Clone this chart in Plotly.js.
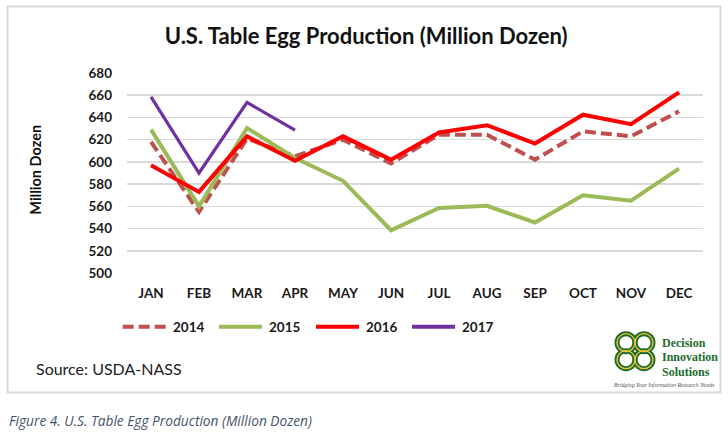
<!DOCTYPE html>
<html>
<head>
<meta charset="utf-8">
<script src="https://cdn.plot.ly/plotly-3.0.1.min.js"></script>
<style>
html,body{margin:0;padding:0;background:#fff;}
#chart{width:728px;height:433px;}
</style>
</head>
<body>
<div id="chart"></div>
<script>
const months = ["JAN","FEB","MAR","APR","MAY","JUN","JUL","AUG","SEP","OCT","NOV","DEC"];
const seriesNames = ["2014","2015","2016","2017"];
const y2014 = [618, 555, 621, 605, 620, 598.5, 624.5, 624.5, 602, 627.5, 623, 645.5];
const y2015 = [629, 560, 630.5, 603.5, 583, 538.5, 558.5, 560.5, 545.5, 570, 565, 594];
const y2016 = [597, 573, 623, 601, 623, 602, 626.5, 633, 616.5, 642.5, 634, 662.5];
const y2017 = [658.5, 590, 653.5, 628.5];
const yTicks = [500, 520, 540, 560, 580, 600, 620, 640, 660, 680];

const colors = ["#C0504D", "#9BBB59", "#FF0000", "#7030A0"];
const widths = [4, 4, 4, 3.2];
const dashes = ["11px,5px", "solid", "solid", "solid"];
const ys = [y2014, y2015, y2016, y2017];

const FONT = "Lato, 'Liberation Sans', sans-serif";

// pixel -> paper helpers (plot area: x 127..703, y 73.3..273.3)
const L = 127, W = 576, T = 73.3, H = 200;
const px = x => (x - L) / W;
const py = y => (T + H - y) / H;

const traces = ys.map((y, i) => ({
  type: "scatter", mode: "lines",
  x: months.slice(0, y.length), y: y,
  name: seriesNames[i],
  line: {color: colors[i], width: widths[i], dash: dashes[i]},
  showlegend: false, hoverinfo: "skip"
}));

const shapes = [];
const annotations = [];

// outer border
shapes.push({type:"rect", xref:"paper", yref:"paper",
  x0:px(7.5), x1:px(720.5), y0:py(392.7), y1:py(6.8),
  line:{color:"#d9d9d9", width:2}, fillcolor:"rgba(0,0,0,0)", layer:"below"});

// custom legend
const legStart = [122.7, 219, 316, 412];
seriesNames.forEach((n, i) => {
  shapes.push({type:"line", xref:"paper", yref:"paper",
    x0:px(legStart[i]), x1:px(legStart[i] + 43), y0:py(327), y1:py(327),
    line:{color:colors[i], width:4, dash: i === 0 ? "11px,5px" : "solid"}});
  annotations.push({xref:"paper", yref:"paper", x:px(legStart[i] + 48), y:py(327),
    xanchor:"left", yanchor:"middle", showarrow:false, text:"<b>" + n + "</b>",
    font:{family:FONT, size:13.5, color:"#1a1a1a"}});
});

// y axis title
annotations.push({xref:"paper", yref:"paper", x:px(36), y:py(170), xanchor:"center", yanchor:"middle",
  textangle:-90, showarrow:false, text:"<b>Million Dozen</b>",
  font:{family:FONT, size:14.5, color:"#111"}});

// source text
annotations.push({xref:"paper", yref:"paper", x:px(34), y:py(369), xanchor:"left", yanchor:"middle",
  showarrow:false, text:"Source: USDA-NASS", font:{family:FONT, size:16, color:"#222"}});

// caption
annotations.push({xref:"paper", yref:"paper", x:px(7), y:py(421), xanchor:"left", yanchor:"middle",
  showarrow:false, text:"<i>Figure 4. U.S. Table Egg Production (Million Dozen)</i>",
  font:{family:"'Open Sans', sans-serif", size:13.7, color:"#44546A"}});

// logo icon (approximate knot)
const knot = [[626,343],[644,343],[626,360],[644,360]];
knot.forEach(([cx, cy]) => {
  shapes.push({type:"circle", xref:"paper", yref:"paper",
    x0:px(cx-9), x1:px(cx+9), y0:py(cy+9), y1:py(cy-9),
    line:{color:"#1e6b30", width:5}, fillcolor:"rgba(0,0,0,0)"});
});
knot.forEach(([cx, cy]) => {
  shapes.push({type:"circle", xref:"paper", yref:"paper",
    x0:px(cx-9), x1:px(cx+9), y0:py(cy+9), y1:py(cy-9),
    line:{color:"#f2c430", width:1.3}, fillcolor:"rgba(0,0,0,0)"});
});
const logoLines = ["Decision","Innovation","Solutions"];
logoLines.forEach((t, i) => {
  annotations.push({xref:"paper", yref:"paper", x:px(660), y:py(343 + i*14.5), xanchor:"left", yanchor:"middle",
    showarrow:false, text:"<b>" + t + "</b>",
    font:{family:"'Liberation Serif', serif", size:12, color:"#1e6b30"}});
});
annotations.push({xref:"paper", yref:"paper", x:px(612), y:py(385), xanchor:"left", yanchor:"middle",
  showarrow:false, text:"<i>Bridging Your Information Research Needs</i>",
  font:{family:"'Liberation Serif', serif", size:5.8, color:"#555"}});

const layout = {
  width: 728, height: 433,
  margin: {l: L, r: 728 - L - W, t: T, b: 433 - T - H, pad: 0},
  paper_bgcolor: "#fff", plot_bgcolor: "#fff",
  title: {text: "<b>U.S. Table Egg Production (Million Dozen)</b>",
    font: {family: FONT, size: 22, color: "#111"},
    x: 0.503, xref: "container", xanchor: "center", y: 1 - 36/433, yanchor: "middle"},
  xaxis: {type: "category", categoryorder: "array", categoryarray: months,
    range: [-0.5, 11.5], showgrid: false, showline: false, zeroline: false,
    ticks: "", tickfont: {family: FONT, size: 13.5, color: "#1a1a1a"},
    ticktext: months.map(m => "<b>" + m + "</b>"), tickvals: months, tickmode: "array",
    ticklabelstandoff: 10},
  yaxis: {range: [500, 680], tickmode: "array", tickvals: yTicks,
    ticktext: yTicks.map(v => "<b>" + v + "</b>"),
    showgrid: true, gridcolor: "#d9d9d9", gridwidth: 1.5, zeroline: false, showline: false,
    ticks: "", ticklabelstandoff: 14,
    tickfont: {family: FONT, size: 13.5, color: "#1a1a1a"}},
  shapes: shapes, annotations: annotations, showlegend: false
};

Plotly.newPlot("chart", traces, layout, {staticPlot: true, displayModeBar: false});
</script>
</body>
</html>
